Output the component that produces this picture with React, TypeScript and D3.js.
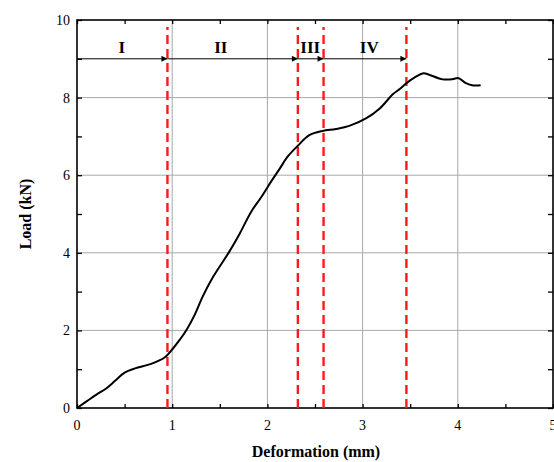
import React, { useEffect, useRef } from "react";
import * as d3 from "d3";

// load-deformation curve
const deformation = [0, 0.1, 0.2, 0.31, 0.4, 0.5, 0.61, 0.77, 0.92, 1.01, 1.08, 1.15, 1.24, 1.32, 1.43, 1.6, 1.71, 1.83, 1.94, 2.04, 2.13, 2.21, 2.32, 2.44, 2.58, 2.72, 2.86, 3.04, 3.18, 3.32, 3.39, 3.46, 3.56, 3.64, 3.7, 3.84, 3.93, 4.01, 4.08, 4.15, 4.24];
const load = [0, 0.17, 0.34, 0.51, 0.7, 0.91, 1.02, 1.13, 1.3, 1.54, 1.76, 2.01, 2.42, 2.87, 3.38, 4.03, 4.5, 5.06, 5.45, 5.84, 6.17, 6.47, 6.76, 7.03, 7.14, 7.19, 7.27, 7.47, 7.72, 8.09, 8.22, 8.37, 8.54, 8.63, 8.59, 8.47, 8.47, 8.5, 8.38, 8.32, 8.32];

// stage boundaries (red dashed lines) and stage names
const boundaries = [0.95, 2.32, 2.59, 3.46];
const stageNames = ["I", "II", "III", "IV"];
const stageLabelX = [0.47, 1.51, 2.45, 3.07];
const arrowLevel = 9;

const xTicks = [0, 1, 2, 3, 4, 5];
const yTicks = [0, 2, 4, 6, 8, 10];

const App = () => {
  const ref = useRef<SVGSVGElement>(null);

  useEffect(() => {
    const svg = d3.select(ref.current);
    svg.selectAll("*").remove();

    const x = d3.scaleLinear().domain([0, 5]).range([77, 553]);
    const y = d3.scaleLinear().domain([0, 10]).range([408, 20]);
    const serif = "'Liberation Serif', 'Times New Roman', serif";

    const defs = svg.append("defs");
    defs.append("marker")
      .attr("id", "arrowHead")
      .attr("viewBox", "0 0 10 10")
      .attr("refX", 10)
      .attr("refY", 5)
      .attr("markerWidth", 9)
      .attr("markerHeight", 6)
      .attr("markerUnits", "userSpaceOnUse")
      .attr("orient", "auto")
      .append("path")
      .attr("d", "M0,0 L10,5 L0,10 Z")
      .attr("fill", "black");

    // grid
    svg.append("g").selectAll("line")
      .data([1, 2, 3, 4])
      .enter().append("line")
      .attr("x1", d => x(d)).attr("x2", d => x(d))
      .attr("y1", y(0)).attr("y2", y(10))
      .attr("stroke", "#a8a8a8").attr("stroke-width", 1);
    svg.append("g").selectAll("line")
      .data([2, 4, 6, 8])
      .enter().append("line")
      .attr("x1", x(0)).attr("x2", x(5))
      .attr("y1", d => y(d)).attr("y2", d => y(d))
      .attr("stroke", "#a8a8a8").attr("stroke-width", 1);

    // axes (ticks inward on all sides)
    const xMinor = d3.range(0, 5.01, 0.5);
    const yMinor = d3.range(0, 10.01, 1);
    svg.append("g")
      .attr("transform", `translate(0,${y(0)})`)
      .call(d3.axisBottom(x).tickValues(xMinor).tickSize(-4).tickFormat(() => ""))
      .call(g => g.select(".domain").remove());
    svg.append("g")
      .attr("transform", `translate(0,${y(10)})`)
      .call(d3.axisTop(x).tickValues(xMinor).tickSize(-4).tickFormat(() => ""))
      .call(g => g.select(".domain").remove());
    svg.append("g")
      .attr("transform", `translate(${x(0)},0)`)
      .call(d3.axisLeft(y).tickValues(yMinor).tickSize(-5).tickFormat(() => ""))
      .call(g => g.select(".domain").remove());
    svg.append("g")
      .attr("transform", `translate(${x(5)},0)`)
      .call(d3.axisRight(y).tickValues(yMinor).tickSize(-5).tickFormat(() => ""))
      .call(g => g.select(".domain").remove());
    svg.selectAll(".tick line").attr("stroke", "black").attr("stroke-width", 1.3);

    svg.append("rect")
      .attr("x", x(0)).attr("y", y(10))
      .attr("width", x(5) - x(0)).attr("height", y(0) - y(10))
      .attr("fill", "none").attr("stroke", "black").attr("stroke-width", 1.6);

    // tick labels
    svg.append("g").selectAll("text")
      .data(xTicks)
      .enter().append("text")
      .attr("x", d => x(d)).attr("y", y(0) + 22)
      .attr("text-anchor", "middle")
      .attr("font-family", serif).attr("font-size", 14)
      .text(d => d);
    svg.append("g").selectAll("text")
      .data(yTicks)
      .enter().append("text")
      .attr("x", x(0) - 7).attr("y", d => y(d) + 5)
      .attr("text-anchor", "end")
      .attr("font-family", serif).attr("font-size", 14)
      .text(d => d);

    // axis titles
    svg.append("text")
      .attr("x", 316).attr("y", 457)
      .attr("text-anchor", "middle")
      .attr("font-family", serif).attr("font-size", 16).attr("font-weight", "bold")
      .text("Deformation (mm)");
    svg.append("text")
      .attr("transform", `translate(31,${y(5)}) rotate(-90)`)
      .attr("text-anchor", "middle")
      .attr("font-family", serif).attr("font-size", 16).attr("font-weight", "bold")
      .text("Load (kN)");

    // stage arrows
    const starts = [0, ...boundaries.slice(0, -1)];
    svg.append("g").selectAll("line")
      .data(boundaries)
      .enter().append("line")
      .attr("x1", (d, i) => x(starts[i]))
      .attr("x2", d => x(d))
      .attr("y1", y(arrowLevel)).attr("y2", y(arrowLevel))
      .attr("stroke", "black").attr("stroke-width", 1)
      .attr("marker-end", "url(#arrowHead)");

    svg.append("g").selectAll("text")
      .data(stageNames)
      .enter().append("text")
      .attr("x", (d, i) => x(stageLabelX[i]))
      .attr("y", y(arrowLevel) - 6)
      .attr("text-anchor", "middle")
      .attr("font-family", serif).attr("font-size", 17).attr("font-weight", "bold")
      .text(d => d);

    // red dashed boundaries
    svg.append("g").selectAll("line")
      .data(boundaries)
      .enter().append("line")
      .attr("x1", d => x(d)).attr("x2", d => x(d))
      .attr("y1", y(0)).attr("y2", y(10) + 7)
      .attr("stroke", "#ff1a1a").attr("stroke-width", 2.4)
      .attr("stroke-dasharray", "9,5");

    // curve
    const pts: [number, number][] = deformation.map((d, i) => [d, load[i]]);
    const line = d3.line<[number, number]>()
      .x(d => x(d[0]))
      .y(d => y(d[1]))
      .curve(d3.curveCatmullRom);
    svg.append("path")
      .datum(pts)
      .attr("d", line)
      .attr("fill", "none")
      .attr("stroke", "black")
      .attr("stroke-width", 2);
  }, []);

  return (
    <svg
      ref={ref}
      width={554}
      height={462}
      style={{ position: "absolute", left: 0, top: 0, background: "white" }}
    />
  );
};

export default App;
